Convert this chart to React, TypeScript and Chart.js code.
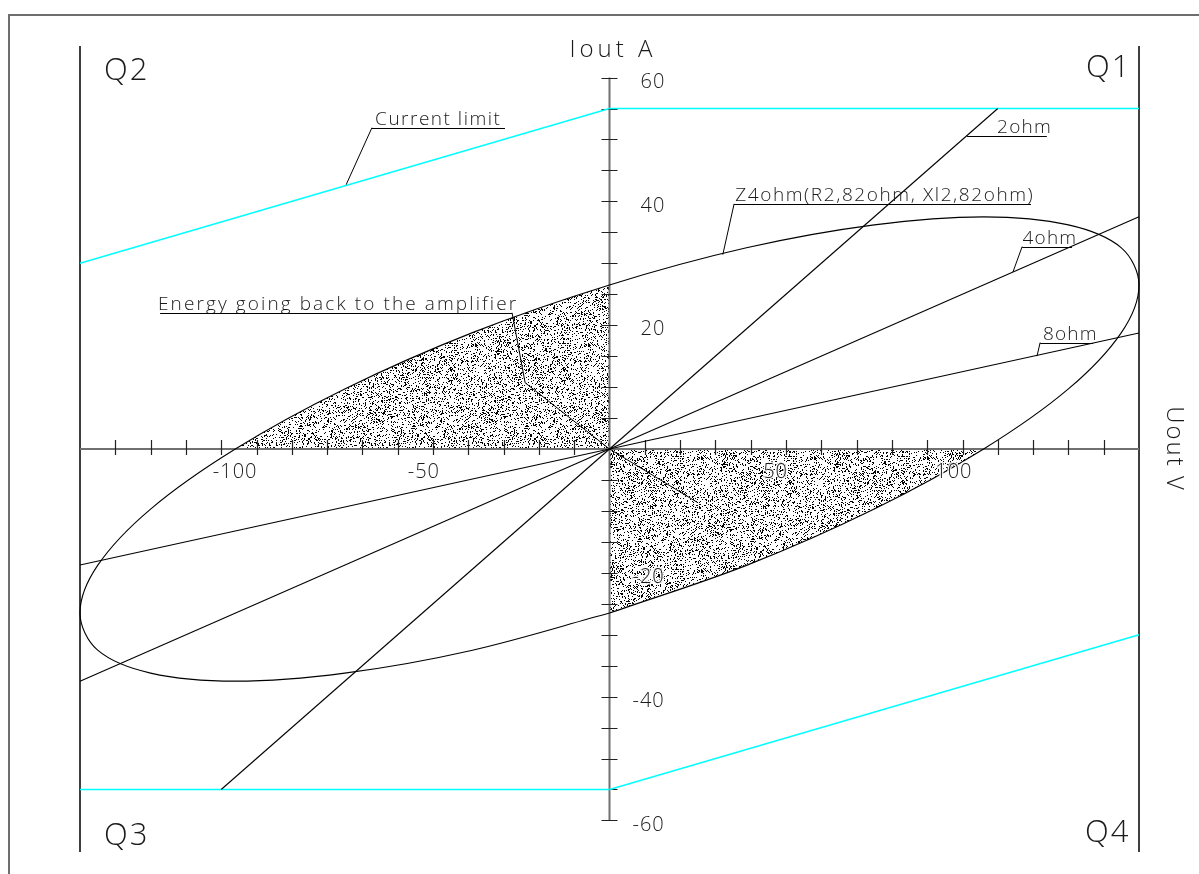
import React, { useEffect, useRef } from "react";
import { Chart, registerables } from "chart.js";

Chart.register(...registerables);

// ---- data (Uout in V on x, Iout in A on y) ----
const ohm2Line = [{ x: -110, y: -55 }, { x: 110, y: 55 }];
const ohm4Line = [{ x: -150, y: -37.5 }, { x: 150, y: 37.5 }];
const ohm8Line = [{ x: -150, y: -18.75 }, { x: 150, y: 18.75 }];
const limitQ1 = [{ x: 0, y: 55 }, { x: 150, y: 55 }];
const limitQ2 = [{ x: -150, y: 30 }, { x: 0, y: 55 }];
const limitQ3 = [{ x: -150, y: -55 }, { x: 0, y: -55 }];
const limitQ4 = [{ x: 0, y: -55 }, { x: 150, y: -30 }];
const ellipseV = [0, 38.8, 75, 106, 130, 145, 150, 145, 130, 106, 75, 38.8, 0, -38.8, -75, -106, -130, -145, -150, -145, -130, -106, -75, -38.8, 0];
const ellipseI = [-26.5, -18.8, -9.7, 0, 9.7, 18.8, 26.5, 32.5, 36.2, 37.5, 36.2, 32.5, 26.5, 18.8, 9.7, 0, -9.7, -18.8, -26.5, -32.5, -36.2, -37.5, -36.2, -32.5, -26.5];

const xTickValues = [-140, -130, -120, -110, -100, -90, -80, -70, -60, -50, -40, -30, -20, -10, 10, 20, 30, 40, 50, 60, 70, 80, 90, 100, 110, 120, 130, 140];
const yTickValues = [-60, -55, -50, -45, -40, -35, -30, -25, -20, -15, -10, -5, 5, 10, 15, 20, 25, 30, 35, 40, 45, 50, 55, 60];
const xTickLabels = ["-100", "-50", "50", "100"];
const xTickLabelValues = [-100, -50, 50, 100];
const yTickLabels = ["60", "40", "20", "-20", "-40", "-60"];
const yTickLabelValues = [60, 40, 20, -20, -40, -60];

const X_MIN = -150;
const X_MAX = 150;
const Y_MIN = -65.1;
const Y_MAX = 65.1;

const ellipseData = ellipseV.map((v, i) => ({ x: v, y: ellipseI[i] }));

// annotations: text, text start x, underline [x0,x1] at y, leader polyline (data coords)
const annotations = [
  { text: "Current limit", tx: -66.4, ux0: -67.3, ux1: -29.6, uy: 51.9, sp: 1.5, leader: [[-67.3, 51.9], [-74.6, 42.7]] },
  { text: "2ohm", tx: 109.8, ux0: 101.3, ux1: 123.9, uy: 50.6, sp: 1.2, leader: [] as number[][] },
  { text: "Z4ohm(R2,82ohm, Xl2,82ohm)", tx: 35.6, ux0: 35.3, ux1: 119.4, uy: 39.6, sp: 1.6, leader: [[35.3, 39.6], [32.1, 31.4]] },
  { text: "4ohm", tx: 117.0, ux0: 116.9, ux1: 131.0, uy: 32.7, sp: 1.2, leader: [[116.9, 32.7], [114.3, 28.6]] },
  { text: "8ohm", tx: 122.8, ux0: 122.0, ux1: 137.0, uy: 17.2, sp: 1.2, leader: [[122.0, 17.2], [121.1, 15.0]] },
  { text: "Energy going back to the amplifier", tx: -127.9, ux0: -127.3, ux1: -27.6, uy: 22.0, sp: 2.1, leader: [[-27.6, 22.0], [-23.9, 10.7], [0, 0], [25.1, -8.7]] },
];

const FONT = '"Open Sans", "DejaVu Sans", sans-serif';
const TEXT_COLOR = "#1a1a1a";

let stipple: CanvasPattern | null = null;
function getStipple(ctx: CanvasRenderingContext2D) {
  if (stipple) return stipple;
  const size = 113;
  const c = document.createElement("canvas");
  c.width = size;
  c.height = size;
  const g = c.getContext("2d")!;
  const img = g.createImageData(size, size);
  let s = 987654321;
  for (let i = 0; i < size * size; i++) {
    s = (Math.imul(s, 1103515245) + 12345) >>> 0;
    const r = (s >>> 16) / 65536;
    if (r < 0.2) {
      img.data[i * 4 + 3] = 255;
    }
  }
  g.putImageData(img, 0, 0);
  stipple = ctx.createPattern(c, "repeat");
  return stipple;
}

const cadPlugin = {
  id: "cadPlugin",
  beforeDatasetsDraw(chart: any) {
    const ctx: CanvasRenderingContext2D = chart.ctx;
    const xs = chart.scales.x;
    const ys = chart.scales.y;
    const X = (v: number) => xs.getPixelForValue(v);
    const Y = (v: number) => ys.getPixelForValue(v);

    ctx.save();
    // drawing frame
    ctx.strokeStyle = "#6e6e6e";
    ctx.lineWidth = 2;
    ctx.beginPath();
    ctx.moveTo(9, 874);
    ctx.lineTo(9, 15);
    ctx.lineTo(1199, 15);
    ctx.stroke();

    // stippled regions inside ellipse in Q2 and Q4
    const meta = chart.getDatasetMeta(7);
    const line = meta.dataset;
    if (line && line.updateControlPoints) line.updateControlPoints(chart.chartArea, "x");
    const pts = meta.data;
    ctx.save();
    ctx.beginPath();
    ctx.moveTo(pts[0].x, pts[0].y);
    for (let i = 1; i < pts.length; i++) {
      const p = pts[i - 1];
      const q = pts[i];
      if (p.cp2x !== undefined && q.cp1x !== undefined) {
        ctx.bezierCurveTo(p.cp2x, p.cp2y, q.cp1x, q.cp1y, q.x, q.y);
      } else {
        ctx.lineTo(q.x, q.y);
      }
    }
    ctx.closePath();
    ctx.clip();
    ctx.fillStyle = getStipple(ctx) as any;
    ctx.fillRect(X(X_MIN) - 5, Y(45), X(0) - X(X_MIN) + 5, Y(0) - Y(45));
    ctx.fillRect(X(0), Y(0), X(X_MAX) - X(0) + 5, Y(-45) - Y(0));
    ctx.restore();

    // boundary verticals
    ctx.strokeStyle = "#000";
    ctx.lineWidth = 1.5;
    ctx.beginPath();
    ctx.moveTo(X(X_MIN), Y(Y_MAX));
    ctx.lineTo(X(X_MIN), Y(Y_MIN));
    ctx.moveTo(X(X_MAX), Y(Y_MAX));
    ctx.lineTo(X(X_MAX), Y(Y_MIN));
    ctx.stroke();

    // axes
    ctx.strokeStyle = "#707070";
    ctx.lineWidth = 2;
    ctx.beginPath();
    ctx.moveTo(X(X_MIN), Y(0));
    ctx.lineTo(X(X_MAX), Y(0));
    ctx.moveTo(X(0), Y(60));
    ctx.lineTo(X(0), Y(-60));
    ctx.stroke();

    // ticks
    ctx.strokeStyle = "#222";
    ctx.lineWidth = 1.2;
    ctx.beginPath();
    for (const v of xTickValues) {
      const px = Math.round(X(v)) + 0.5;
      ctx.moveTo(px, Y(0) - 9);
      ctx.lineTo(px, Y(0) + 6);
    }
    for (const v of yTickValues) {
      const py = Math.round(Y(v)) + 0.5;
      ctx.moveTo(X(0) - 8, py);
      ctx.lineTo(X(0) + 8, py);
    }
    ctx.stroke();
    ctx.restore();
  },
  afterDatasetsDraw(chart: any) {
    const ctx: CanvasRenderingContext2D = chart.ctx;
    const xs = chart.scales.x;
    const ys = chart.scales.y;
    const X = (v: number) => xs.getPixelForValue(v);
    const Y = (v: number) => ys.getPixelForValue(v);
    ctx.save();
    ctx.fillStyle = TEXT_COLOR;
    (ctx as any).letterSpacing = "1px";

    // tick labels (with a light halo so they read over the stipple)
    ctx.font = `300 20px ${FONT}`;
    ctx.textBaseline = "middle";
    ctx.strokeStyle = "rgba(255,255,255,0.85)";
    ctx.lineWidth = 3;
    ctx.lineJoin = "round";
    ctx.textAlign = "right";
    const xRight = [1, 7, 2, 10];
    xTickLabels.forEach((t, i) => {
      const px = X(xTickLabelValues[i]) + xRight[i];
      const py = Y(0) + 23;
      ctx.strokeText(t, px, py);
      ctx.fillText(t, px, py);
    });
    ctx.textAlign = "left";
    yTickLabels.forEach((t, i) => {
      const v = yTickLabelValues[i];
      const px = X(0) + (v > 0 ? 31 : 23);
      const py = Y(v) + 4.5;
      ctx.strokeText(t, px, py);
      ctx.fillText(t, px, py);
    });

    // axis titles
    ctx.font = `300 24px ${FONT}`;
    ctx.textAlign = "left";
    ctx.textBaseline = "alphabetic";
    (ctx as any).letterSpacing = "4px";
    ctx.fillText("Iout A", X(0) - 40, Y(Y_MAX) + 11);
    (ctx as any).letterSpacing = "2px";
    ctx.save();
    ctx.translate(X(X_MAX) + 28, Y(0));
    ctx.rotate(Math.PI / 2);
    ctx.textAlign = "center";
    ctx.fillText("Uout V", 0, 0);
    ctx.restore();

    // quadrant labels
    ctx.font = `300 31px ${FONT}`;
    (ctx as any).letterSpacing = "2px";
    ctx.textAlign = "left";
    ctx.fillText("Q2", X(X_MIN) + 24, Y(Y_MAX) + 34);
    ctx.fillText("Q3", X(X_MIN) + 24, Y(Y_MIN) - 7);
    ctx.fillText("Q1", X(X_MAX) - 53, Y(Y_MAX) + 31);
    ctx.fillText("Q4", X(X_MAX) - 54, Y(Y_MIN) - 10);

    // annotations
    ctx.font = `300 19px ${FONT}`;
    ctx.textAlign = "left";
    ctx.strokeStyle = "#000";
    ctx.lineWidth = 1;
    for (const a of annotations) {
      (ctx as any).letterSpacing = `${a.sp}px`;
      const uy = Math.round(Y(a.uy)) + 0.5;
      ctx.fillText(a.text, X(a.tx), uy - 4);
      ctx.beginPath();
      ctx.moveTo(X(a.ux0), uy);
      ctx.lineTo(X(a.ux1), uy);
      ctx.stroke();
      if (a.leader.length) {
        ctx.beginPath();
        a.leader.forEach((p, i) => {
          const px = X(p[0]);
          const py = Y(p[1]);
          if (i === 0) ctx.moveTo(px, py);
          else ctx.lineTo(px, py);
        });
        ctx.stroke();
      }
    }
    ctx.restore();
  },
};

function lineDs(label: string, data: { x: number; y: number }[], color: string, width: number) {
  return {
    label,
    data,
    showLine: true,
    borderColor: color,
    backgroundColor: color,
    borderWidth: width,
    pointRadius: 0,
    pointHoverRadius: 0,
    tension: 0,
    fill: false,
    clip: false as any,
  };
}

export default function App() {
  const ref = useRef<HTMLCanvasElement>(null);
  useEffect(() => {
    document.body.style.margin = "0";
    const canvas = ref.current!;
    const chart = new Chart(canvas, {
      type: "scatter",
      data: {
        datasets: [
          lineDs("2ohm", ohm2Line, "#000", 1.1),
          lineDs("4ohm", ohm4Line, "#000", 1.1),
          lineDs("8ohm", ohm8Line, "#000", 1.1),
          lineDs("Current limit Q1", limitQ1, "#00ffff", 1.4),
          lineDs("Current limit Q2", limitQ2, "#00ffff", 1.4),
          lineDs("Current limit Q3", limitQ3, "#00ffff", 1.4),
          lineDs("Current limit Q4", limitQ4, "#00ffff", 1.4),
          {
            ...lineDs("Z4ohm", ellipseData, "#000", 1.1),
            tension: 0.34,
            capBezierPoints: false,
          } as any,
        ],
      },
      options: {
        responsive: false,
        animation: false,
        events: [],
        layout: { padding: { left: 80, right: 60, top: 46, bottom: 22 } },
        plugins: { legend: { display: false }, tooltip: { enabled: false } },
        scales: {
          x: { type: "linear", min: X_MIN, max: X_MAX, display: false },
          y: { type: "linear", min: Y_MIN, max: Y_MAX, display: false },
        },
      },
      plugins: [cadPlugin],
    });
    return () => chart.destroy();
  }, []);
  return (
    <div style={{ width: 1199, height: 874, background: "#fff" }}>
      <canvas ref={ref} width={1199} height={874} style={{ display: "block" }} />
    </div>
  );
}
